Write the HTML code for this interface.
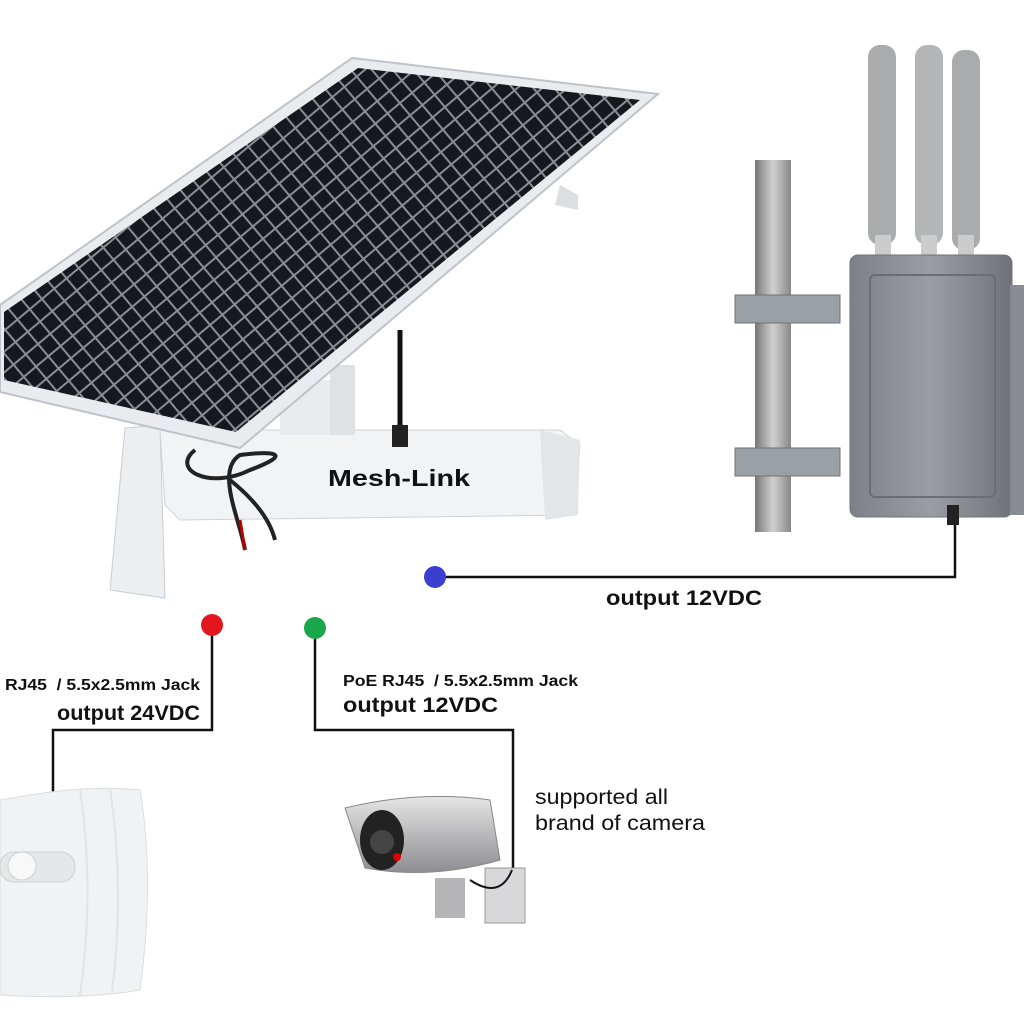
<!DOCTYPE html>
<html><head><meta charset="utf-8"><style>
html,body{margin:0;padding:0;background:#fff;width:1024px;height:1024px;overflow:hidden}
svg{display:block}
text{font-family:"Liberation Sans",Arial,sans-serif;white-space:pre}
</style></head><body>
<svg width="1024" height="1024" viewBox="0 0 1024 1024" xmlns="http://www.w3.org/2000/svg">
<defs>
<pattern id="cells" width="16" height="16" patternUnits="userSpaceOnUse" patternTransform="rotate(-40)">
<rect width="16" height="16" fill="#8a8d94"/><rect x="1" y="1" width="14" height="14" fill="#16181d"/>
</pattern>
<linearGradient id="box" x1="0" x2="1"><stop offset="0" stop-color="#7d8086"/><stop offset="0.5" stop-color="#9a9da2"/><stop offset="1" stop-color="#6f7278"/></linearGradient>
<linearGradient id="pole" x1="0" x2="1"><stop offset="0" stop-color="#777"/><stop offset="0.5" stop-color="#d0d0d0"/><stop offset="1" stop-color="#888"/></linearGradient>
<linearGradient id="cam" x1="0" y1="0" x2="0" y2="1"><stop offset="0" stop-color="#e6e6e6"/><stop offset="0.5" stop-color="#b9b9bb"/><stop offset="1" stop-color="#8e8e92"/></linearGradient>
</defs>

<!-- solar bracket -->
<polygon points="125,428 160,425 165,598 110,590" fill="#eceff2" stroke="#c9ccd0"/>
<polygon points="160,430 560,430 580,445 575,515 180,520 165,505" fill="#f2f3f5" stroke="#cfd2d6"/>
<polygon points="540,430 580,440 578,515 545,520" fill="#e3e5e8"/>
<rect x="280" y="380" width="70" height="55" fill="#e9ebee"/>
<rect x="330" y="365" width="25" height="70" fill="#dfe2e5"/>
<path d="M400,330 L400,430" stroke="#111" stroke-width="5" fill="none"/>
<rect x="392" y="425" width="16" height="22" fill="#222"/>
<path d="M195,450 C170,470 210,490 250,470 C290,455 280,450 240,455 C215,470 240,520 245,550 M230,480 C255,500 270,520 275,540" stroke="#222" stroke-width="4" fill="none"/>
<path d="M240,520 L245,550" stroke="#b00" stroke-width="3"/>
<text x="328" y="486" font-size="23" font-weight="bold" fill="#111" font-family="Liberation Serif,serif" textLength="142" lengthAdjust="spacingAndGlyphs">Mesh-Link</text>
<polygon points="560,185 578,195 578,210 555,205" fill="#dcdfe2"/>

<!-- solar panel -->
<polygon points="352,58 658,94 240,448 0,392 0,305" fill="#e9ebee" stroke="#bfc3c8" stroke-width="2"/>
<polygon points="358,68 640,100 236,432 4,380 4,312" fill="url(#cells)"/>

<!-- right pole and enclosure -->
<rect x="755" y="160" width="36" height="372" fill="url(#pole)"/>
<rect x="735" y="295" width="105" height="28" fill="#9aa0a6" stroke="#6d7278"/>
<rect x="735" y="448" width="105" height="28" fill="#9aa0a6" stroke="#6d7278"/>
<rect x="868" y="45" width="28" height="200" rx="12" fill="#a9abad"/>
<rect x="915" y="45" width="28" height="200" rx="12" fill="#b3b5b7"/>
<rect x="952" y="50" width="28" height="200" rx="12" fill="#a9abad"/>
<rect x="875" y="235" width="16" height="22" fill="#ccc"/><rect x="921" y="235" width="16" height="22" fill="#ccc"/><rect x="958" y="235" width="16" height="22" fill="#ccc"/>
<rect x="850" y="255" width="162" height="262" rx="8" fill="url(#box)" stroke="#6f7379"/>
<rect x="870" y="275" width="125" height="222" rx="5" fill="none" stroke="#6a6e74" stroke-width="2"/>
<rect x="1010" y="285" width="14" height="230" fill="#888c92"/>
<rect x="947" y="505" width="12" height="20" fill="#222"/>

<!-- connectors -->
<g stroke="#111" stroke-width="2.5" fill="none">
<path d="M435,577 H955 V525"/>
<path d="M212,625 V730 H53 V800"/>
<path d="M315,628 V730 H513 V870"/>
</g>
<circle cx="435" cy="577" r="11" fill="#3a3fd0"/>
<circle cx="212" cy="625" r="11" fill="#e3161d"/>
<circle cx="315" cy="628" r="11" fill="#1aa64a"/>

<text x="606" y="605" font-size="21" font-weight="bold" fill="#111" textLength="156" lengthAdjust="spacingAndGlyphs">output 12VDC</text>
<text x="5" y="690" font-size="16" font-weight="bold" fill="#111" textLength="195" lengthAdjust="spacingAndGlyphs">RJ45  / 5.5x2.5mm Jack</text>
<text x="57" y="720" font-size="21" font-weight="bold" fill="#111" textLength="143" lengthAdjust="spacingAndGlyphs">output 24VDC</text>
<text x="343" y="686" font-size="16" font-weight="bold" fill="#111" textLength="235" lengthAdjust="spacingAndGlyphs">PoE RJ45  / 5.5x2.5mm Jack</text>
<text x="343" y="712" font-size="21" font-weight="bold" fill="#111" textLength="155" lengthAdjust="spacingAndGlyphs">output 12VDC</text>
<text x="535" y="804" font-size="21" fill="#111" textLength="133" lengthAdjust="spacingAndGlyphs">supported all</text>
<text x="535" y="830" font-size="21" fill="#111" textLength="170" lengthAdjust="spacingAndGlyphs">brand of camera</text>

<!-- left antenna device -->
<path d="M0,800 L30,795 Q90,785 140,790 Q155,880 140,990 Q80,1000 0,995 Z" fill="#f1f2f3" stroke="#dcdddf"/>
<path d="M80,790 Q95,890 80,995 M110,788 Q125,890 112,992" stroke="#e2e3e5" stroke-width="2" fill="none"/>
<rect x="0" y="852" width="75" height="30" rx="14" fill="#e5e6e8" stroke="#cfd0d2"/>
<circle cx="22" cy="866" r="14" fill="#f8f8f8" stroke="#cfd0d2"/>

<!-- camera -->
<path d="M345,808 Q420,790 490,800 L500,860 Q430,880 365,868 Z" fill="url(#cam)" stroke="#888"/>
<ellipse cx="382" cy="840" rx="22" ry="30" fill="#222"/>
<circle cx="382" cy="842" r="12" fill="#444"/><circle cx="397" cy="857" r="4" fill="#d00"/>
<rect x="435" y="878" width="30" height="40" fill="#b5b5b8"/>
<rect x="485" y="868" width="40" height="55" fill="#d8d8da" stroke="#999"/>
<path d="M470,880 Q500,900 512,870" stroke="#111" stroke-width="2" fill="none"/>
</svg>
</body></html>
